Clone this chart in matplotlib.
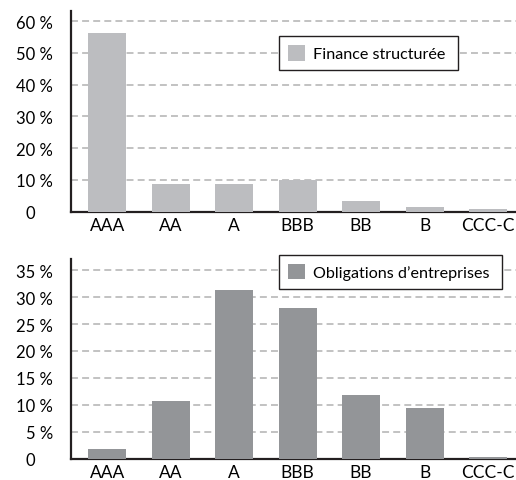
import matplotlib
matplotlib.use('Agg')
import matplotlib.pyplot as plt

ratings = ['AAA', 'AA', 'A', 'BBB', 'BB', 'B', 'CCC-C']
finance_structuree = [56.3, 8.6, 8.6, 10.0, 3.4, 1.4, 0.7]
obligations = [1.8, 10.7, 31.3, 28.0, 11.8, 9.4, 0.25]
top_ticks = [0, 10, 20, 30, 40, 50, 60]
bottom_ticks = [0, 5, 10, 15, 20, 25, 30, 35]

plt.rcParams['font.family'] = ['Lato', 'DejaVu Sans']
plt.rcParams['font.size'] = 10
plt.rcParams['lines.scale_dashes'] = False

fig = plt.figure(figsize=(5.16, 4.81), dpi=100)
ax1 = fig.add_axes([0.1376, 0.558, 0.8624, 0.417])
ax2 = fig.add_axes([0.1376, 0.044, 0.8624, 0.416])


def style(ax, vals, ticks, ymax, color, label, legend_y):
    x = range(len(ratings))
    ax.bar(x, vals, width=0.6, color=color, label=label, zorder=3)
    ax.set_xlim(-0.57, 6.44)
    ax.set_ylim(0, ymax)
    ax.set_yticks(ticks)
    ax.set_yticklabels(['0    '] + [f'{t} %' for t in ticks[1:]])
    ax.set_xticks(list(x))
    ax.set_xticklabels(ratings)
    ax.tick_params(axis='y', length=0, pad=13, labelsize=12)
    ax.tick_params(axis='x', length=0, pad=4, labelsize=12.5)
    for t in ticks[1:]:
        ax.axhline(t, color='#bdbdbd', lw=1.3, ls=(0, (5, 3)), zorder=1)
    for s in ['top', 'right']:
        ax.spines[s].set_visible(False)
    for s in ['left', 'bottom']:
        ax.spines[s].set_linewidth(1.6)
        ax.spines[s].set_color('#231f20')
    leg = ax.legend(loc='upper left', bbox_to_anchor=(0.467, legend_y),
                    fancybox=False, framealpha=1, edgecolor='#231f20',
                    handlelength=1.1, handleheight=1.1, borderpad=0.55,
                    handletextpad=0.45, fontsize=11.6, borderaxespad=0)
    leg.get_frame().set_linewidth(1.0)
    leg.set_zorder(5)


style(ax1, finance_structuree, top_ticks, 63.2, '#bcbdc0', 'Finance structurée ', 0.874)
style(ax2, obligations, bottom_ticks, 37.1, '#939598', 'Obligations d\u2019entreprises ', 1.02)

fig.savefig('out.png', dpi=100)
